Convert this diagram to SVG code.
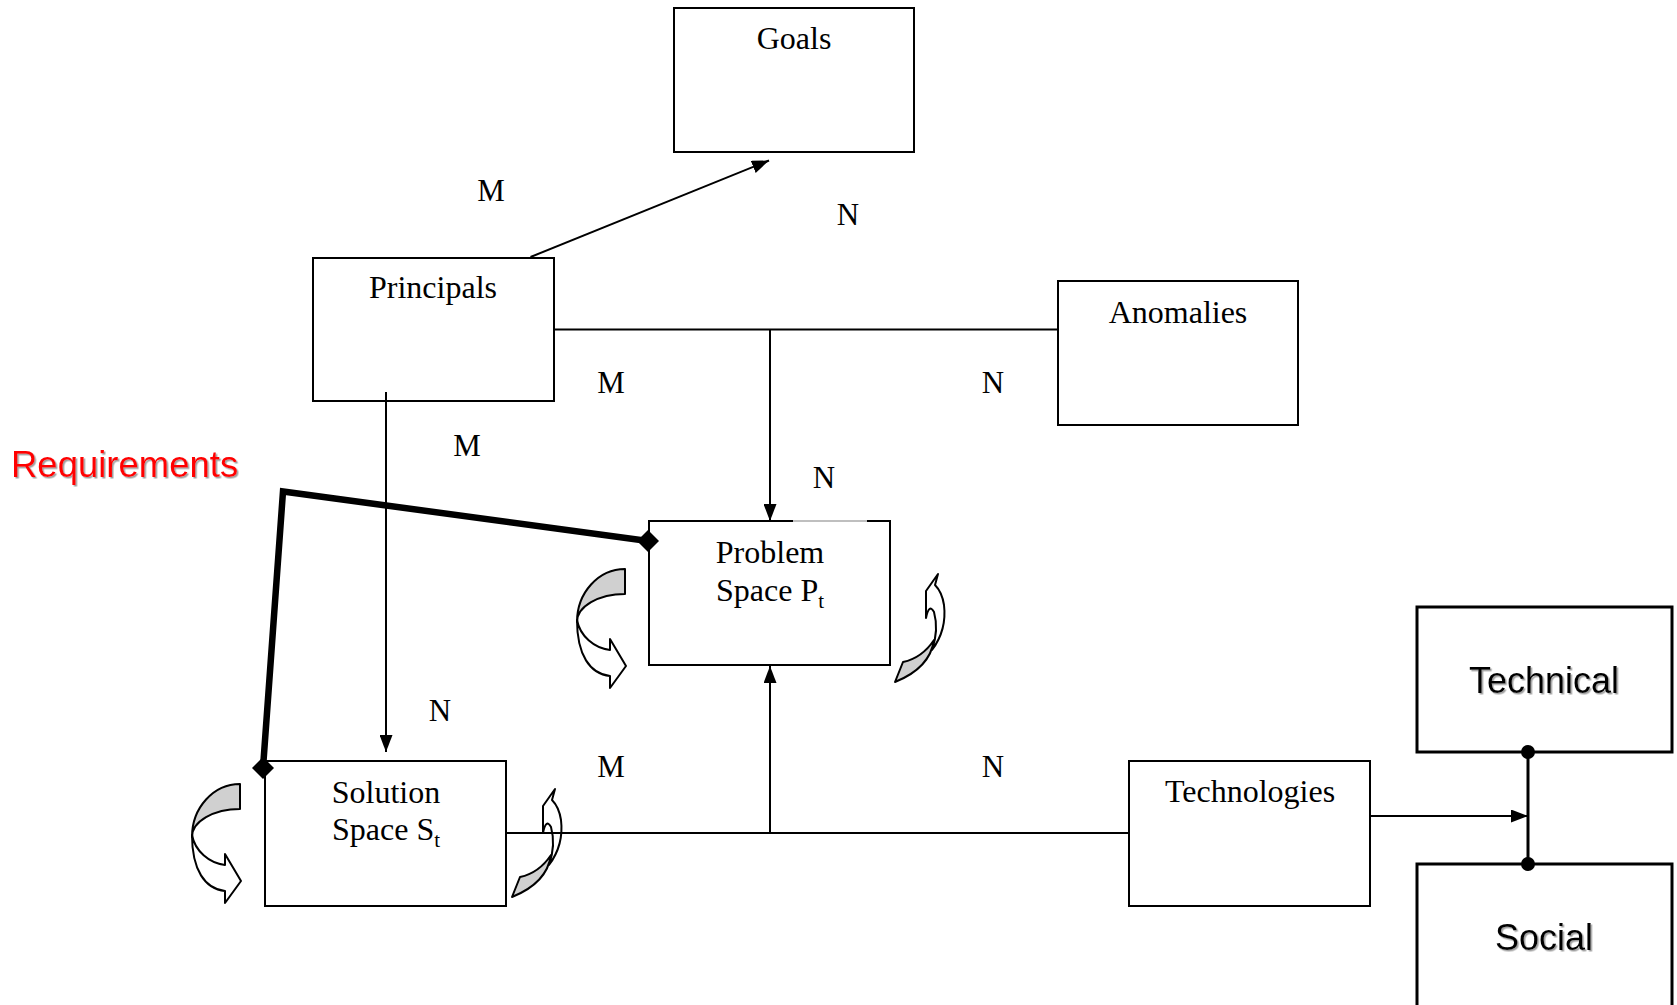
<svg xmlns="http://www.w3.org/2000/svg" width="1677" height="1005" viewBox="0 0 1677 1005">
<style>
.box{fill:#fff;stroke:#000;stroke-width:2}
.box3{fill:#fff;stroke:#000;stroke-width:3}
.t{font-family:"Liberation Serif","Times New Roman",serif;font-size:32px;fill:#000;text-anchor:middle}
.lbl{font-family:"Liberation Serif","Times New Roman",serif;font-size:31px;fill:#000;text-anchor:middle}
.sans{font-family:"Liberation Sans",Arial,sans-serif;font-size:36px;text-anchor:middle;fill:#000}
.c{fill:none;stroke:#000;stroke-width:2}
.cw{fill:#fff;stroke:#000;stroke-width:2;stroke-linejoin:round}
.cg{fill:#d0d0d0;stroke:#000;stroke-width:2;stroke-linejoin:round}
</style>
<defs>
<marker id="ah" viewBox="0 0 17 13" refX="17" refY="6.5" markerWidth="17" markerHeight="13" orient="auto" markerUnits="userSpaceOnUse">
<path d="M0,0 L17,6.5 L0,13 Z" fill="#000"/>
</marker>
<filter id="sh" x="-5%" y="-20%" width="115%" height="150%">
<feDropShadow dx="1.5" dy="1.5" stdDeviation="0.6" flood-color="#888" flood-opacity="0.8"/>
</filter>
<g id="curveR">
<path class="cw" d="M577,620 C580,636 594,648 610,650 L610,639 L626,666 L610,688 L610,676 C590,674 577,655 577,620 Z"/>
<path class="cg" d="M625,569 A48,53 0 0 0 577,622 A48,28 0 0 1 625,594 Z"/>
</g>
<g id="curveU">
<path class="cw" d="M938,574 L926,591 L926,618 Q929,603 934,612 Q939,630 932,650 Q947,630 944,605 Q942,592 935,585 Z"/>
<path class="cg" d="M895,682 L903,662 Q922,658 934,640 Q930,668 895,682 Z"/>
</g>
</defs>
<rect width="1677" height="1005" fill="#fff"/>

<g id="decor">
<use href="#curveR"/>
<use href="#curveU"/>
<use href="#curveR" transform="translate(-385,215)"/>
<use href="#curveU" transform="translate(-383,215)"/>
</g>

<g id="goals"><rect class="box" x="674" y="8" width="240" height="144"/><text class="t" x="794" y="49">Goals</text></g>
<g id="principals"><rect class="box" x="313" y="258" width="241" height="143"/><text class="t" x="433" y="298">Principals</text></g>
<g id="anomalies"><rect class="box" x="1058" y="281" width="240" height="144"/><text class="t" x="1178" y="323">Anomalies</text></g>
<g id="problem"><rect class="box" x="649" y="521" width="241" height="144"/><line x1="793" y1="521" x2="867" y2="521" stroke="#fff" stroke-width="1.6"/><text class="t" x="770" y="563">Problem</text><text class="t" x="770" y="601">Space P<tspan font-size="21" dy="7">t</tspan></text></g>
<g id="solution"><rect class="box" x="265" y="761" width="241" height="145"/><text class="t" x="386" y="803">Solution</text><text class="t" x="386" y="840">Space S<tspan font-size="21" dy="7">t</tspan></text></g>
<g id="technologies"><rect class="box" x="1129" y="761" width="241" height="145"/><text class="t" x="1250" y="802">Technologies</text></g>
<g id="technical"><rect class="box3" x="1417" y="607" width="255" height="145"/><text class="sans" x="1544" y="693" filter="url(#sh)">Technical</text></g>
<g id="social"><rect class="box3" x="1417" y="864" width="255" height="160"/><text class="sans" x="1544" y="950" filter="url(#sh)">Social</text></g>
<g id="requirements"><text x="11" y="477" font-family="'Liberation Sans',Arial,sans-serif" font-size="36.5" fill="#ff0000" filter="url(#sh)">Requirements</text></g>

<g id="connectors">
<line class="c" x1="530.5" y1="257" x2="769" y2="160.5" marker-end="url(#ah)"/>
<line class="c" x1="554" y1="329.5" x2="1058" y2="329.5"/>
<line class="c" x1="770" y1="329.5" x2="770" y2="521" marker-end="url(#ah)"/>
<line class="c" x1="386" y1="392" x2="386" y2="752" marker-end="url(#ah)"/>
<line class="c" x1="506" y1="833" x2="1129" y2="833"/>
<line class="c" x1="770" y1="833" x2="770" y2="666" marker-end="url(#ah)"/>
<line class="c" x1="1369" y1="816" x2="1528" y2="816" marker-end="url(#ah)"/>
<line x1="1528" y1="752" x2="1528" y2="864" stroke="#000" stroke-width="3"/>
<circle cx="1528" cy="752" r="7" fill="#000"/>
<circle cx="1528" cy="864" r="7" fill="#000"/>
<polyline points="648,541 283,491.5 263,768" fill="none" stroke="#000" stroke-width="6.5" stroke-linejoin="miter"/>
<polygon points="648,530 659,541 648,552 637,541" fill="#000"/>
<polygon points="263,757 274,768 263,779 252,768" fill="#000"/>
</g>

<g id="labels">
<text class="lbl" x="491" y="201">M</text>
<text class="lbl" x="848" y="225">N</text>
<text class="lbl" x="611" y="393">M</text>
<text class="lbl" x="993" y="393">N</text>
<text class="lbl" x="467" y="456">M</text>
<text class="lbl" x="824" y="488">N</text>
<text class="lbl" x="440" y="721">N</text>
<text class="lbl" x="611" y="777">M</text>
<text class="lbl" x="993" y="777">N</text>
</g>
</svg>
